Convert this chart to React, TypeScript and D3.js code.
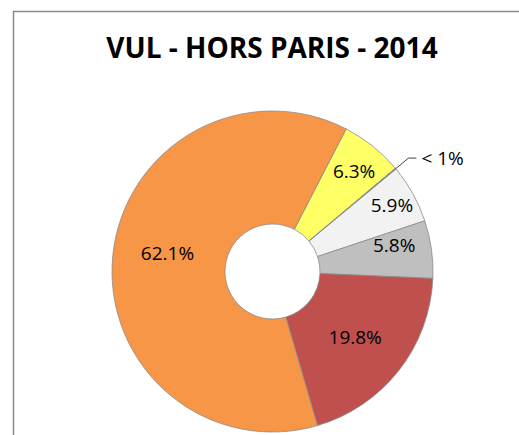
import React, { useEffect, useRef } from 'react';
import * as d3 from 'd3';

// Slice data (clockwise from the first slice)
const shares = [6.3, 0.1, 5.9, 5.8, 19.8, 62.1];
const labels = ['6.3%', '< 1%', '5.9%', '5.8%', '19.8%', '62.1%'];
const colors = ['#FFFF66', '#595959', '#F2F2F2', '#BFBFBF', '#C0504D', '#F79646'];
// where each label sits: radius (null = outside label with leader line) and angle nudge in degrees
const labelRadius = [129, null, 136.5, 124.5, 105.5, 106.5];
const labelShift = [0.6, 0, 0.1, -4.3, 0.3, 4.1];

const title = 'VUL - HORS PARIS - 2014';

const App = () => {
  const svgRef = useRef(null);

  useEffect(() => {
    const width = 519;
    const height = 435;
    const cx = 272.5;
    const cy = 271.5;
    const outerR = 160.5;
    const innerR = 47.5;

    const svg = d3.select(svgRef.current);
    svg.selectAll('*').remove();

    svg.append('rect')
      .attr('width', width)
      .attr('height', height)
      .attr('fill', 'white');

    // chart area border
    svg.append('rect')
      .attr('x', 13.5)
      .attr('y', 11.5)
      .attr('width', width)
      .attr('height', height)
      .attr('fill', 'none')
      .attr('stroke', '#8a8a8a')
      .attr('stroke-width', 1.5);

    svg.append('text')
      .attr('x', 272)
      .attr('y', 58)
      .attr('text-anchor', 'middle')
      .attr('font-family', 'Open Sans, sans-serif')
      .attr('font-weight', 'bold')
      .attr('font-size', '28px')
      .attr('fill', '#000')
      .text(title);

    const start = (27.3 * Math.PI) / 180;
    const pie = d3.pie<number>()
      .sort(null)
      .value(d => d)
      .startAngle(start)
      .endAngle(start + 2 * Math.PI);

    const arcs = pie(shares);
    const arc = d3.arc<d3.PieArcDatum<number>>()
      .innerRadius(innerR)
      .outerRadius(outerR);

    const g = svg.append('g').attr('transform', `translate(${cx},${cy})`);

    g.selectAll('path.slice')
      .data(arcs)
      .enter()
      .append('path')
      .attr('class', 'slice')
      .attr('d', arc)
      .attr('fill', (d, i) => colors[i])
      .attr('stroke', '#8c8c8c')
      .attr('stroke-width', 0.8);

    arcs.forEach((d, i) => {
      const r = labelRadius[i];
      const mid = (d.startAngle + d.endAngle) / 2;
      if (r !== null) {
        const a = mid + (labelShift[i] * Math.PI) / 180;
        g.append('text')
          .attr('x', r * Math.sin(a))
          .attr('y', -r * Math.cos(a))
          .attr('dy', '0.35em')
          .attr('text-anchor', 'middle')
          .attr('font-family', 'Open Sans, sans-serif')
          .attr('font-size', '19px')
          .attr('fill', '#000')
          .text(labels[i]);
      } else {
        const p0 = [outerR * Math.sin(mid), -outerR * Math.cos(mid)];
        const p1 = [177 * Math.sin(mid), -177 * Math.cos(mid)];
        const p2 = [p1[0] + 8, p1[1]];
        g.append('polyline')
          .attr('points', [p0, p1, p2].map(p => p.join(',')).join(' '))
          .attr('fill', 'none')
          .attr('stroke', '#404040')
          .attr('stroke-width', 1);
        g.append('text')
          .attr('x', p2[0] + 5)
          .attr('y', p2[1])
          .attr('dy', '0.35em')
          .attr('font-family', 'Open Sans, sans-serif')
          .attr('font-size', '19px')
          .attr('fill', '#000')
          .text(labels[i]);
      }
    });
  }, []);

  return (
    <svg
      ref={svgRef}
      width={519}
      height={435}
      style={{ position: 'fixed', left: 0, top: 0, display: 'block' }}
    />
  );
};

export default App;
